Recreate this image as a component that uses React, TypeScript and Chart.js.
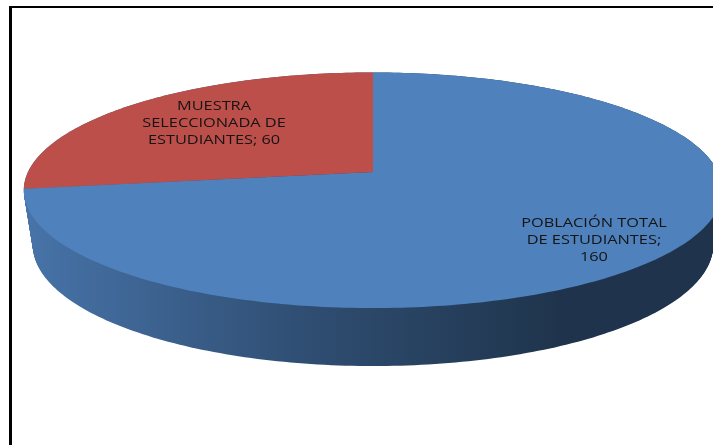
import React, { useEffect, useRef } from "react";
import { Chart, registerables } from "chart.js";

Chart.register(...registerables);

const categories = ["POBLACIÓN TOTAL DE ESTUDIANTES", "MUESTRA SELECCIONADA DE ESTUDIANTES"];
const values = [160, 60];
const sliceColors = ["#4f81bd", "#bd4f4b"];
const labelFractions = [0.79, 0.65];
const labelNudgeX = [-3, 0];
const labelNudgeY = [3, -3];

const WIDTH = 713;
const HEIGHT = 445;
const APEX_X = 373;
const APEX_Y = 172;
const SCALE_X = 345;
const SCALE_Y = 115;
const PERSPECTIVE = 0.155;
const LABEL_MAX_WIDTH = 155;
const LABEL_STRETCH = 1.21;
const LABEL_FONT = '13.5px "Open Sans"';
const STEP = Math.PI / 180;

function project(u: number, v: number): [number, number] {
  const w = 1 - PERSPECTIVE * v;
  return [APEX_X + (SCALE_X * u) / w, APEX_Y + (SCALE_Y * v) / w];
}

function wrap(ctx: CanvasRenderingContext2D, text: string): string[] {
  const lines: string[] = [];
  let line = "";
  for (const word of text.split(" ")) {
    const next = line ? line + " " + word : word;
    if (line && ctx.measureText(next).width * LABEL_STRETCH > LABEL_MAX_WIDTH) {
      lines.push(line);
      line = word;
    } else {
      line = next;
    }
  }
  lines.push(line);
  return lines;
}

const pie3d = {
  id: "pie3d",
  beforeDraw(chart: any) {
    const { ctx } = chart;
    ctx.save();
    ctx.fillStyle = "#ffffff";
    ctx.fillRect(0, 0, WIDTH, HEIGHT);
    ctx.fillStyle = "#000000";
    ctx.fillRect(9, 6, WIDTH - 9, 2);
    ctx.fillRect(9, 6, 3, HEIGHT - 6);
    ctx.restore();
  },
  beforeDatasetDraw(chart: any, args: any) {
    const { ctx } = chart;
    const arcs = args.meta.data;

    // Side wall: the rim of the disc swept down to its lower outline.
    const grad = ctx.createLinearGradient(30, 0, 560, 0);
    grad.addColorStop(0, "#4773a8");
    grad.addColorStop(0.5, "#304f74");
    grad.addColorStop(1, "#1f344c");
    ctx.save();
    ctx.fillStyle = grad;
    const layers = 70;
    for (let i = 0; i <= layers; i++) {
      const t = i / layers;
      const fx = 1 - 0.026 * t;
      const fy = 1 + 0.025 * t;
      const cy = 190 + 55 * t;
      ctx.beginPath();
      for (let a = 0; a < Math.PI * 2; a += STEP) {
        const [x, y] = project(Math.cos(a), Math.sin(a));
        ctx.lineTo(APEX_X + (x - APEX_X) * fx, cy + (y - 190) * fy);
      }
      ctx.closePath();
      ctx.fill();
    }

    // Top face: every slice uses the angles the library computed.
    arcs.forEach((arc: any) => {
      const { startAngle, endAngle } = arc.getProps(["startAngle", "endAngle"], true);
      ctx.beginPath();
      ctx.moveTo(APEX_X, APEX_Y);
      for (let a = startAngle; a < endAngle; a += STEP) {
        const [x, y] = project(Math.cos(a), Math.sin(a));
        ctx.lineTo(x, y);
      }
      const [ex, ey] = project(Math.cos(endAngle), Math.sin(endAngle));
      ctx.lineTo(ex, ey);
      ctx.closePath();
      ctx.fillStyle = arc.options.backgroundColor;
      ctx.fill();
    });

    // Data labels
    ctx.font = LABEL_FONT;
    ctx.fillStyle = "#141414";
    ctx.textAlign = "center";
    ctx.textBaseline = "middle";
    ctx.filter = "blur(0.4px)";
    arcs.forEach((arc: any, i: number) => {
      const { startAngle, endAngle } = arc.getProps(["startAngle", "endAngle"], true);
      const mid = (startAngle + endAngle) / 2;
      const f = labelFractions[i];
      const [x, y] = project(Math.cos(mid) * f, Math.sin(mid) * f);
      const lines = wrap(ctx, `${categories[i]}; ${values[i]}`);
      const lh = 17;
      lines.forEach((l, j) => {
        ctx.save();
        ctx.translate(x + labelNudgeX[i], y + labelNudgeY[i] + (j - (lines.length - 1) / 2) * lh);
        ctx.scale(LABEL_STRETCH, 1);
        ctx.fillText(l, 0, 0);
        ctx.restore();
      });
    });
    ctx.restore();
    return false;
  },
};

export default function App() {
  const ref = useRef<HTMLCanvasElement>(null);
  useEffect(() => {
    const chart = new Chart(ref.current!, {
      type: "pie",
      data: {
        labels: categories,
        datasets: [{ data: values, backgroundColor: sliceColors, borderWidth: 0 }],
      },
      options: {
        animation: false,
        responsive: false,
        plugins: { legend: { display: false }, tooltip: { enabled: false } },
      },
      plugins: [pie3d],
    } as any);
    return () => chart.destroy();
  }, []);
  return (
    <canvas
      ref={ref}
      width={WIDTH}
      height={HEIGHT}
      style={{ position: "fixed", left: 0, top: 0, width: WIDTH, height: HEIGHT }}
    />
  );
}
